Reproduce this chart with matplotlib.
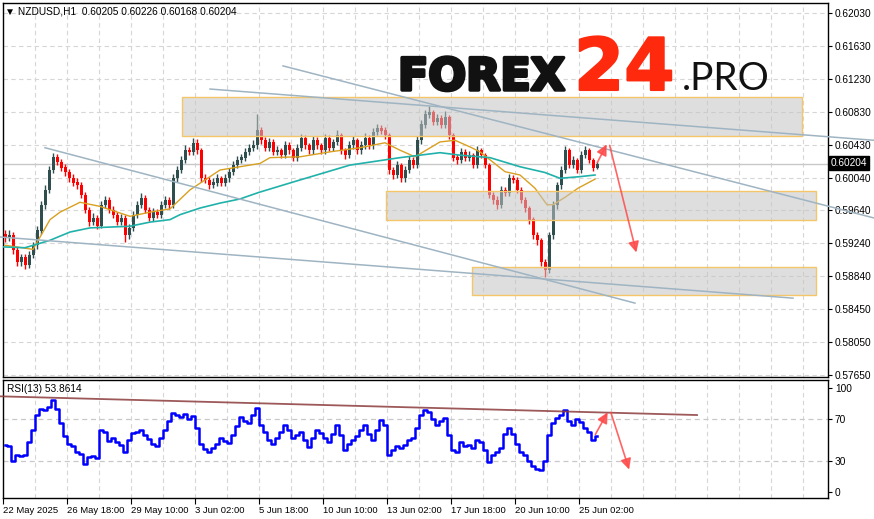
import numpy as np
import matplotlib
matplotlib.use("Agg")
import matplotlib.pyplot as plt
import matplotlib.patheffects as pe
from matplotlib.patches import Rectangle

plt.rcParams['font.family'] = ['Liberation Sans', 'DejaVu Sans']

# ---- data (NZDUSD H1, one candle = 4 hourly bars) ----
closes = [0.5931, 0.5934, 0.5916, 0.5902, 0.5907, 0.5898, 0.5910, 0.5922, 0.5940, 0.5971,
          0.5989, 0.6013, 0.6028, 0.6023, 0.6016, 0.6011, 0.6003, 0.5998, 0.5995, 0.5983,
          0.5965, 0.5950, 0.5955, 0.5946, 0.5971, 0.5977, 0.5965, 0.5959, 0.5950, 0.5955,
          0.5934, 0.5943, 0.5959, 0.5971, 0.5979, 0.5965, 0.5955, 0.5962, 0.5959, 0.5971,
          0.5977, 0.5971, 0.6003, 0.6013, 0.6025, 0.6037, 0.6035, 0.6046, 0.6037, 0.6003,
          0.6001, 0.5995, 0.5998, 0.6003, 0.5998, 0.6003, 0.6011, 0.6019, 0.6025, 0.6028,
          0.6035, 0.6040, 0.6043, 0.6061, 0.6049, 0.6040, 0.6047, 0.6035, 0.6037, 0.6031,
          0.6043, 0.6037, 0.6028, 0.6040, 0.6052, 0.6043, 0.6037, 0.6049, 0.6043, 0.6037,
          0.6052, 0.6040, 0.6047, 0.6055, 0.6037, 0.6031, 0.6043, 0.6049, 0.6037, 0.6043,
          0.6052, 0.6043, 0.6059, 0.6064, 0.6061, 0.6055, 0.6013, 0.6007, 0.6019, 0.6003,
          0.6013, 0.6025, 0.6019, 0.6049, 0.6068, 0.6080, 0.6083, 0.6071, 0.6076, 0.6068,
          0.6077, 0.6055, 0.6028, 0.6025, 0.6035, 0.6028, 0.6031, 0.6019, 0.6037, 0.6031,
          0.6019, 0.5983, 0.5977, 0.5971, 0.5989, 0.5986, 0.6003, 0.6001, 0.5989, 0.5977,
          0.5967, 0.5953, 0.5934, 0.5928, 0.5902, 0.5892, 0.5934, 0.5971, 0.5995, 0.6013,
          0.6037, 0.6019, 0.6025, 0.6013, 0.6031, 0.6037, 0.6025, 0.6016, 0.6020]
highs = [0.5940, 0.5941, 0.5938, 0.5920, 0.5912, 0.5911, 0.5915, 0.5926, 0.5945, 0.5975,
         0.5995, 0.6018, 0.6034, 0.6032, 0.6026, 0.6020, 0.6014, 0.6008, 0.6003, 0.5999,
         0.5986, 0.5968, 0.5961, 0.5959, 0.5975, 0.5982, 0.5980, 0.5969, 0.5962, 0.5960,
         0.5958, 0.5948, 0.5963, 0.5976, 0.5985, 0.5983, 0.5968, 0.5967, 0.5966, 0.5975,
         0.5982, 0.5980, 0.6008, 0.6018, 0.6030, 0.6043, 0.6041, 0.6052, 0.6050, 0.6040,
         0.6008, 0.6005, 0.6003, 0.6008, 0.6006, 0.6008, 0.6015, 0.6024, 0.6030, 0.6033,
         0.6040, 0.6045, 0.6049, 0.6081, 0.6065, 0.6053, 0.6052, 0.6050, 0.6042, 0.6040,
         0.6048, 0.6047, 0.6040, 0.6045, 0.6057, 0.6055, 0.6046, 0.6054, 0.6053, 0.6046,
         0.6056, 0.6055, 0.6051, 0.6061, 0.6058, 0.6040, 0.6048, 0.6054, 0.6052, 0.6048,
         0.6058, 0.6055, 0.6064, 0.6069, 0.6068, 0.6065, 0.6058, 0.6017, 0.6024, 0.6022,
         0.6018, 0.6030, 0.6029, 0.6054, 0.6073, 0.6086, 0.6090, 0.6086, 0.6081, 0.6079,
         0.6084, 0.6080, 0.6058, 0.6032, 0.6040, 0.6038, 0.6036, 0.6034, 0.6042, 0.6040,
         0.6034, 0.6022, 0.5987, 0.5981, 0.5994, 0.5993, 0.6008, 0.6007, 0.6004, 0.5992,
         0.5980, 0.5970, 0.5956, 0.5938, 0.5931, 0.5905, 0.5938, 0.5975, 0.5999, 0.6018,
         0.6042, 0.6040, 0.6030, 0.6028, 0.6036, 0.6042, 0.6040, 0.6028, 0.6023]
lows = [0.5926, 0.5927, 0.5912, 0.5897, 0.5897, 0.5893, 0.5894, 0.5906, 0.5918, 0.5936,
        0.5966, 0.5985, 0.6009, 0.6019, 0.6012, 0.6006, 0.5999, 0.5994, 0.5990, 0.5979,
        0.5961, 0.5945, 0.5946, 0.5942, 0.5943, 0.5967, 0.5961, 0.5955, 0.5946, 0.5946,
        0.5926, 0.5930, 0.5939, 0.5955, 0.5967, 0.5961, 0.5951, 0.5951, 0.5955, 0.5955,
        0.5967, 0.5966, 0.5967, 0.5999, 0.6009, 0.6021, 0.6031, 0.6031, 0.6033, 0.5999,
        0.5997, 0.5990, 0.5991, 0.5994, 0.5994, 0.5994, 0.5999, 0.6007, 0.6015, 0.6021,
        0.6024, 0.6031, 0.6036, 0.6039, 0.6045, 0.6036, 0.6036, 0.6031, 0.6031, 0.6027,
        0.6027, 0.6033, 0.6024, 0.6024, 0.6036, 0.6039, 0.6033, 0.6033, 0.6039, 0.6033,
        0.6033, 0.6036, 0.6036, 0.6043, 0.6033, 0.6026, 0.6027, 0.6039, 0.6033, 0.6033,
        0.6039, 0.6039, 0.6039, 0.6055, 0.6057, 0.6051, 0.6008, 0.6002, 0.6003, 0.5998,
        0.5999, 0.6009, 0.6015, 0.6015, 0.6045, 0.6064, 0.6076, 0.6067, 0.6067, 0.6064,
        0.6064, 0.6051, 0.6024, 0.6020, 0.6021, 0.6024, 0.6024, 0.6015, 0.6015, 0.6027,
        0.6015, 0.5979, 0.5972, 0.5966, 0.5967, 0.5982, 0.5982, 0.5997, 0.5985, 0.5973,
        0.5962, 0.5948, 0.5930, 0.5922, 0.5897, 0.5884, 0.5888, 0.5929, 0.5966, 0.5990,
        0.6009, 0.6015, 0.6015, 0.6009, 0.6009, 0.6027, 0.6021, 0.6012, 0.6014]
first_open = 0.5935

rsi = [45, 44, 30, 36, 35, 36, 48, 60, 74, 80, 79, 82, 88, 80, 66, 54, 46, 44, 38, 37,
       27, 34, 35, 33, 60, 58, 49, 52, 48, 45, 38, 50, 57, 58, 60, 55, 51, 46, 44, 52,
       60, 68, 76, 74, 72, 75, 70, 73, 62, 46, 41, 38, 42, 46, 52, 49, 47, 55, 63, 72,
       68, 66, 74, 81, 64, 58, 50, 46, 52, 58, 64, 60, 52, 55, 58, 50, 43, 52, 60, 57,
       52, 48, 56, 64, 55, 40, 46, 50, 54, 60, 64, 56, 50, 60, 69, 64, 36, 40, 44, 42,
       45, 50, 52, 62, 74, 79, 77, 70, 64, 68, 71, 55, 40, 38, 48, 44, 45, 42, 50, 48,
       40, 29, 36, 38, 42, 56, 62, 56, 46, 38, 36, 30, 25, 22, 21, 30, 55, 66, 71, 74,
       79, 68, 64, 70, 67, 62, 58, 50, 54]

# moving averages (bar, price)
ma_slow_x = [2, 30, 47, 57, 77, 97, 107, 127, 147, 167, 187, 217, 257, 267, 297, 327, 357, 382,
             397, 412, 437, 452, 467, 477, 502, 517, 532, 544, 550, 562, 575, 592]
ma_slow = [0.5922, 0.5917, 0.5953, 0.5962, 0.5974, 0.5969, 0.5965, 0.5957, 0.5962, 0.5966,
           0.5989, 0.6013, 0.6021, 0.6028, 0.6029, 0.6035, 0.6040, 0.6046, 0.6037, 0.6029,
           0.6047, 0.6049, 0.6041, 0.6035, 0.6011, 0.6007, 0.5991, 0.5971, 0.5971, 0.5980,
           0.5991, 0.6002]
ma_long_x = [0, 22, 47, 67, 87, 107, 127, 147, 167, 177, 197, 217, 237, 256, 297, 347, 397,
             437, 457, 487, 517, 542, 557, 577, 592]
ma_long = [0.5920, 0.5919, 0.5928, 0.5938, 0.5943, 0.5944, 0.5945, 0.5950, 0.5953, 0.5959,
           0.5967, 0.5973, 0.5978, 0.5986, 0.6001, 0.6019, 0.6028, 0.6034, 0.6031, 0.6028,
           0.6017, 0.6010, 0.6003, 0.6005, 0.6007]

# levels and trend lines
zones = [(179, 799, 0.6054, 0.6101), (383, 813, 0.5953, 0.5988), (469, 813, 0.5862, 0.5896)]
trend_lines = [((207, 0.6111), (871, 0.6049)), ((280, 0.6139), (871, 0.5955)),
               ((42, 0.6040), (632, 0.5852)), ((-3, 0.5932), (790, 0.5858))]
arrows = [((593, 0.6019), (605, 0.6047)), ((606, 0.6046), (634, 0.5910))]
rsi_line = ((-3, 92), (694, 74))
rsi_arrows = [((591, 53), (606, 79)), ((607, 79), (627, 19))]
last_price = 0.60204

price_labels = ["0.57650", "0.58050", "0.58450", "0.58840", "0.59240", "0.59640",
                "0.60040", "0.60430", "0.60830", "0.61230", "0.61630", "0.62030"]
time_labels = ["22 May 2025", "26 May 18:00", "29 May 10:00", "3 Jun 02:00", "5 Jun 18:00",
               "10 Jun 10:00", "13 Jun 02:00", "17 Jun 18:00", "20 Jun 10:00", "25 Jun 02:00"]

# ---- figure ----
W, H = 874, 519
fig = plt.figure(figsize=(W / 100, H / 100), dpi=100)
fig.patch.set_facecolor("white")
ax = fig.add_axes([3 / W, 1 - 377 / H, 825 / W, 374 / H])
ax2 = fig.add_axes([3 / W, 1 - 498 / H, 825 / W, 118 / H])

grid_kw = dict(color="#d6d6d6", lw=0.8, ls=(0, (4, 3)), zorder=0)
for a in (ax, ax2):
    for gx in range(32, 825, 32):
        a.axvline(gx, **grid_kw)
    a.set_xlim(0, 825)
    for s in a.spines.values():
        s.set_color("black")
        s.set_linewidth(1)

ytick_pos = np.linspace(0.5765, 0.6203, 12)
for yv in ytick_pos:
    ax.axhline(yv, **grid_kw)
ax.set_ylim(0.57626, 0.62151)
ax.yaxis.tick_right()
ax.set_yticks(ytick_pos)
ax.set_yticklabels(price_labels)
ax.set_xticks([])
ax.tick_params(axis="y", direction="out", length=3, pad=2, labelsize=7.3, width=0.8)

# candles
cx = 2 + 4 * np.arange(len(closes))
opens = np.array([first_open] + closes[:-1])
cl = np.array(closes)
up = cl >= opens
col = np.where(up, "#2f4f4f", "#ff0000")
ax.vlines(cx, lows, highs, colors=col, lw=1, zorder=2)
ax.bar(cx, np.abs(cl - opens) + 0.00004, bottom=np.minimum(cl, opens) - 0.00002,
       width=3.0, color=col, zorder=3, linewidth=0)

ax.plot(ma_slow_x, ma_slow, color="#d9a020", lw=1, zorder=4)
ax.plot(ma_long_x, ma_long, color="#20b2aa", lw=1.2, zorder=4)
ax.axhline(last_price, color="#c8c8c8", lw=1, zorder=1)

for x0, x1, y0, y1 in zones:
    ax.add_patch(Rectangle((x0, y0), x1 - x0, y1 - y0, facecolor="#c4c4c4", alpha=0.55,
                           edgecolor="none", zorder=5))
    ax.add_patch(Rectangle((x0, y0), x1 - x0, y1 - y0, fill=False, edgecolor="#f5c56a",
                           lw=1, zorder=5))

for (x0, y0), (x1, y1) in trend_lines:
    ax.plot([x0, x1], [y0, y1], color="#9fb4c2", lw=1.1, zorder=6, clip_on=False)

arrow_kw = dict(arrowstyle="-|>", color="#ff4a4a", lw=1.2, mutation_scale=16, alpha=0.85)
for (x0, y0), (x1, y1) in arrows:
    ax.annotate("", xy=(x1, y1), xytext=(x0, y0), arrowprops=arrow_kw, zorder=7)

# RSI panel
for yv in (70, 30):
    ax2.axhline(yv, color="#c8c8c8", lw=0.9, ls=(0, (4, 3)), zorder=0)
ax2.set_ylim(-5.8, 107.7)
ax2.yaxis.tick_right()
ax2.set_yticks([0, 30, 70, 100])
ax2.set_yticklabels(["0", "30", "70", "100"])
ax2.tick_params(axis="y", direction="out", length=3, pad=2, labelsize=7.3, width=0.8)
ax2.step(2 + 4 * np.arange(len(rsi)), rsi, where="mid", color="#0000ff", lw=1.8, zorder=3)
(rx0, ry0), (rx1, ry1) = rsi_line
ax2.plot([rx0, rx1], [ry0, ry1], color="#8c3c3c", lw=1.3, alpha=0.85, zorder=4, clip_on=False)
for (x0, y0), (x1, y1) in rsi_arrows:
    ax2.annotate("", xy=(x1, y1), xytext=(x0, y0), arrowprops=arrow_kw, zorder=7)
ax2.set_xticks(np.arange(0, 64 * len(time_labels), 64))
ax2.set_xticklabels(time_labels, ha="left")
ax2.tick_params(axis="x", direction="out", length=4, pad=2, labelsize=6.8, width=0.8)

# texts
fig.text(5 / W, 1 - 12 / H, "\u25bc NZDUSD,H1  0.60205 0.60226 0.60168 0.60204",
         fontsize=7.3, va="center", ha="left")
fig.text(7 / W, 1 - 389 / H, "RSI(13) 53.8614", fontsize=7.3, va="center", ha="left")
fig.text(831 / W, 1 - 163 / H, "0.60204", fontsize=7.3, color="white", va="center", ha="left",
         bbox=dict(boxstyle="square,pad=0.15", facecolor="black", edgecolor="black"))

fig.text(398 / W, 1 - 90 / H, "FOREX", fontsize=32, fontweight="bold", family="DejaVu Sans",
         color="#111111", ha="left", va="baseline",
         path_effects=[pe.withStroke(linewidth=2.5, foreground="#111111")])
fig.text(574 / W, 1 - 90 / H, "24", fontsize=52, fontweight="bold", family="DejaVu Sans",
         color="#ff2a0e", ha="left", va="baseline",
         path_effects=[pe.withStroke(linewidth=1.5, foreground="#ff2a0e")])
fig.text(682 / W, 1 - 90 / H, ".PRO", fontsize=28, fontweight="normal", family="Lato",
         color="#111111", ha="left", va="baseline")

fig.savefig("out.png", dpi=100)
